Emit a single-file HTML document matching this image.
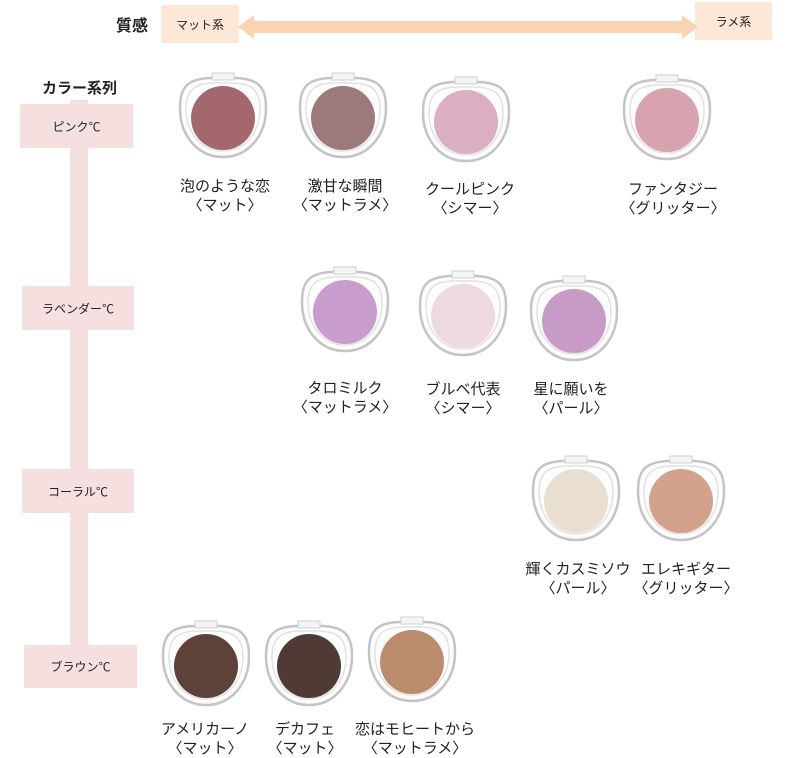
<!DOCTYPE html>
<html><head><meta charset="utf-8"><style>
body{margin:0;width:802px;height:756px;background:#fff;position:relative;overflow:hidden;font-family:"Liberation Sans","Noto Sans CJK JP",sans-serif;color:#222}
.a{position:absolute}
.box{position:absolute;background:#f5dfdf;font-size:12px;display:flex;align-items:center;justify-content:center}
.lb{position:absolute;font-size:15px;line-height:19px;text-align:center;width:150px;white-space:nowrap}
svg.c{position:absolute}
</style></head><body>
<div class="a" style="left:116px;top:12px;font-size:16px;font-weight:bold">質感</div>
<div class="box" style="left:161px;top:5px;width:78px;height:38px;background:#fde8d8">マット系</div>
<div class="box" style="left:695px;top:2px;width:77px;height:38px;background:#fde8d8">ラメ系</div>
<svg class="a" style="left:238px;top:12px" width="460" height="30"><polygon points="0,15 16,3 16,9 444,9 444,3 460,15 444,27 444,21 16,21 16,27" fill="#f9d3b2"/></svg>
<div class="a" style="left:42px;top:77px;font-size:15px;font-weight:bold">カラー系列</div>
<div class="a" style="left:70px;top:100px;width:18px;height:580px;background:#f5dfdf"></div>
<div class="box" style="left:20px;top:104px;width:113px;height:44px">ピンク℃</div>
<div class="box" style="left:22px;top:286px;width:112px;height:44px">ラベンダー℃</div>
<div class="box" style="left:22px;top:469px;width:112px;height:44px">コーラル℃</div>
<div class="box" style="left:24px;top:645px;width:113px;height:43px">ブラウン℃</div>

<svg width="0" height="0" style="position:absolute"><defs>
<g id="shell"><path d="M45,6 C76,5 88,10 88,36 C88,64 70,85 45,85 C20,85 2,64 2,36 C2,10 14,5 45,6 Z" fill="#fdfdfd" stroke="#c4c4c4" stroke-width="2.5"/><path d="M45,11 C71,10 82,15 82,37 C82,61 66,79 45,79 C24,79 8,61 8,37 C8,15 19,10 45,11 Z" fill="none" stroke="#e2e2e2" stroke-width="1.5"/><rect x="34" y="1" width="22" height="7" fill="#f4f4f4" stroke="#cfcfcf"/></g>
</defs></svg>

<svg class="c" style="left:178px;top:72px" width="90" height="88" viewBox="0 0 90 88"><use href="#shell"/><circle cx="45" cy="46" r="32" fill="#a3676d"/></svg>
<svg class="c" style="left:298px;top:72px" width="90" height="88" viewBox="0 0 90 88"><use href="#shell"/><circle cx="45" cy="46" r="32" fill="#9c7a7c"/></svg>
<svg class="c" style="left:421px;top:76px" width="90" height="88" viewBox="0 0 90 88"><use href="#shell"/><circle cx="45" cy="46" r="32" fill="#dcaec4"/></svg>
<svg class="c" style="left:622px;top:74px" width="90" height="88" viewBox="0 0 90 88"><use href="#shell"/><circle cx="45" cy="46" r="32" fill="#d6a3ae"/></svg>

<svg class="c" style="left:300px;top:266px" width="90" height="88" viewBox="0 0 90 88"><use href="#shell"/><circle cx="45" cy="46" r="32" fill="#c99dcb"/></svg>
<svg class="c" style="left:418px;top:270px" width="90" height="88" viewBox="0 0 90 88"><use href="#shell"/><circle cx="45" cy="46" r="32" fill="#eed9e1"/></svg>
<svg class="c" style="left:529px;top:275px" width="90" height="88" viewBox="0 0 90 88"><use href="#shell"/><circle cx="45" cy="46" r="32" fill="#c79bc6"/></svg>

<svg class="c" style="left:531px;top:455px" width="90" height="88" viewBox="0 0 90 88"><use href="#shell"/><circle cx="45" cy="46" r="32" fill="#e8dfd0"/></svg>
<svg class="c" style="left:636px;top:455px" width="90" height="88" viewBox="0 0 90 88"><use href="#shell"/><circle cx="45" cy="46" r="32" fill="#d3a28d"/></svg>

<svg class="c" style="left:161px;top:620px" width="90" height="88" viewBox="0 0 90 88"><use href="#shell"/><circle cx="45" cy="46" r="32" fill="#5e4139"/></svg>
<svg class="c" style="left:264px;top:620px" width="90" height="88" viewBox="0 0 90 88"><use href="#shell"/><circle cx="45" cy="46" r="32" fill="#4f3a35"/></svg>
<svg class="c" style="left:367px;top:616px" width="90" height="88" viewBox="0 0 90 88"><use href="#shell"/><circle cx="45" cy="46" r="32" fill="#bb8b6d"/></svg>

<div class="lb" style="left:150px;top:177px">泡のような恋<br>〈マット〉</div>
<div class="lb" style="left:270px;top:177px">激甘な瞬間<br>〈マットラメ〉</div>
<div class="lb" style="left:395px;top:180px">クールピンク<br>〈シマー〉</div>
<div class="lb" style="left:598px;top:180px">ファンタジー<br>〈グリッター〉</div>
<div class="lb" style="left:270px;top:379px">タロミルク<br>〈マットラメ〉</div>
<div class="lb" style="left:388px;top:380px">ブルベ代表<br>〈シマー〉</div>
<div class="lb" style="left:496px;top:380px">星に願いを<br>〈パール〉</div>
<div class="lb" style="left:503px;top:560px">輝くカスミソウ<br>〈パール〉</div>
<div class="lb" style="left:611px;top:560px">エレキギター<br>〈グリッター〉</div>
<div class="lb" style="left:130px;top:720px">アメリカーノ<br>〈マット〉</div>
<div class="lb" style="left:230px;top:720px">デカフェ<br>〈マット〉</div>
<div class="lb" style="left:340px;top:720px">恋はモヒートから<br>〈マットラメ〉</div>
</body></html>
